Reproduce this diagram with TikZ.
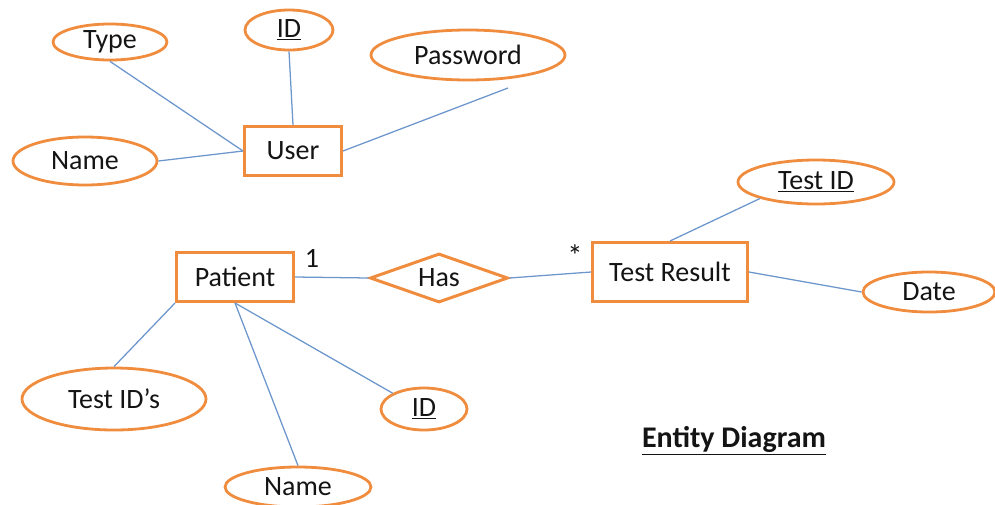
\documentclass[tikz,border=0pt]{standalone}
\usepackage{fontspec}
\setmainfont{Carlito}
\usetikzlibrary{shapes.geometric}
\definecolor{erorange}{RGB}{240,140,62}
\definecolor{erblue}{RGB}{108,150,204}
\definecolor{ertext}{RGB}{20,20,20}
\tikzset{
  every node/.style={text=ertext, font=\fontsize{21}{25}\selectfont},
  entity/.style={draw=erorange, line width=2.25pt, rectangle, inner sep=0pt},
  attr/.style={draw=erorange, line width=2.1pt, ellipse, inner sep=0pt},
  relation/.style={draw=erorange, line width=2.25pt, diamond, aspect=2.8, inner sep=0pt},
  link/.style={draw=erblue, line width=0.95pt},
}
\begin{document}
\begin{tikzpicture}[x=0.75pt, y=-0.75pt]
\useasboundingbox (0,0) rectangle (995,504);

% User entity and its attributes
\node[entity, minimum width=72.75pt, minimum height=36.75pt] (user) at (293,151) {User};
\node[attr, minimum width=85.5pt, minimum height=27pt] (utype) at (110,42) {Type};
\node[attr, minimum width=66pt, minimum height=30pt] (uid) at (289,30) {\underline{ID}};
\node[attr, minimum width=145.5pt, minimum height=37.5pt] (upass) at (468,55) {Password};
\node[attr, minimum width=108pt, minimum height=36pt] (uname) at (85,161) {Name};
\coordinate (passend) at (508,88);

\draw[link] (utype.south) -- (user.west);
\draw[link] (uid.south) -- (user.north);
\draw[link] (passend) -- (user.east);
\draw[link] (uname.east) -- (user.west);

% Patient -- Has -- Test Result
\node[entity, minimum width=87.75pt, minimum height=36.75pt] (patient) at (235,277) {Patient};
\node[relation, minimum width=103.5pt, minimum height=36.75pt] (has) at (439,278) {Has};
\node[entity, minimum width=116.25pt, minimum height=44.25pt] (result) at (670,272) {Test Result};
\node (one) at (312,258) {1};
\node[font=\fontsize{23}{25}\selectfont] (many) at (575,256) {*};

\draw[link] (patient.east) -- (has.west);
\draw[link] (has.east) -- (result.west);

% Test Result attributes
\node[attr, minimum width=117pt, minimum height=33pt] (rid) at (816,182) {\underline{Test ID}};
\node[attr, minimum width=99pt, minimum height=30pt] (rdate) at (929,292) {Date};
\draw[link] (rid.south west) -- (result.north);
\draw[link] (result.east) -- (rdate.west);

% Patient attributes
\node[attr, minimum width=138pt, minimum height=46.5pt] (ptests) at (114,399) {Test ID’s};
\node[attr, minimum width=64.5pt, minimum height=31.5pt] (pid) at (424,409) {\underline{ID}};
\node[attr, minimum width=109.5pt, minimum height=30pt] (pname) at (298,487) {Name};
\draw[link] (patient.south west) -- (ptests.north);
\draw[link] (patient.south) -- (pname.north);
\draw[link] (patient.south) -- (pid.north west);

% Caption
\node[font=\fontsize{22.5}{26}\selectfont\bfseries] (caption) at (734,441) {\underline{Entity Diagram}};
\end{tikzpicture}
\end{document}
